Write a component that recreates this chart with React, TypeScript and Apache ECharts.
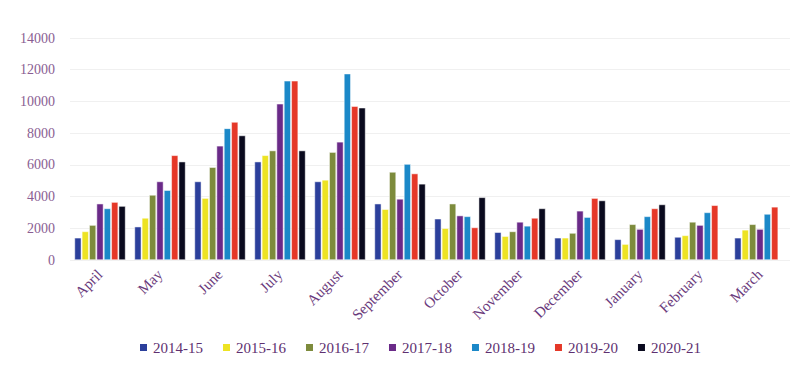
import React, { useEffect, useRef } from "react";
import * as echarts from "echarts";

const months = ["April", "May", "June", "July", "August", "September", "October", "November", "December", "January", "February", "March"];
const seriesNames = ["2014-15", "2015-16", "2016-17", "2017-18", "2018-19", "2019-20", "2020-21"];
const colors = ["#2B3F9B", "#EDE323", "#7D8B3C", "#6A2A88", "#1B88C8", "#E53828", "#0A0A1E"];

const v2014 = [1400, 2100, 4950, 6200, 4950, 3550, 2600, 1750, 1400, 1300, 1450, 1400];
const v2015 = [1800, 2650, 3900, 6600, 5050, 3200, 2000, 1500, 1400, 1000, 1550, 1900];
const v2016 = [2200, 4100, 5850, 6900, 6800, 5550, 3550, 1800, 1700, 2250, 2400, 2250];
const v2017 = [3550, 4950, 7200, 9850, 7450, 3850, 2800, 2400, 3100, 1950, 2200, 1950];
const v2018 = [3250, 4400, 8300, 11300, 11750, 6050, 2750, 2150, 2700, 2750, 3000, 2900];
const v2019 = [3650, 6600, 8700, 11300, 9700, 5450, 2050, 2650, 3900, 3250, 3450, 3350];
const v2020 = [3400, 6200, 7850, 6900, 9600, 4800, 3950, 3250, 3750, 3500, null, null];

const allValues = [v2014, v2015, v2016, v2017, v2018, v2019, v2020];
const yTicks = [0, 2000, 4000, 6000, 8000, 10000, 12000, 14000];

const FONT = "Liberation Serif";

export default function App() {
  const ref = useRef<HTMLDivElement>(null);
  useEffect(() => {
    document.body.style.margin = "0";
    const chart = echarts.init(ref.current!, null, { renderer: "svg" });
    chart.setOption({
      animation: false,
      backgroundColor: "#ffffff",
      textStyle: { fontFamily: FONT },
      grid: { left: 70, right: 17, top: 38, bottom: 105, containLabel: false },
      legend: {
        bottom: 5,
        left: 133,
        itemWidth: 9,
        itemHeight: 9,
        itemGap: 18,
        icon: "rect",
        textStyle: { fontFamily: FONT, fontSize: 15, color: "#5e3070" },
        data: seriesNames.map((name) => ({
          name,
          textStyle: { fontFamily: FONT, fontSize: 15, color: "#5e3070" },
        })),
      },
      xAxis: {
        type: "category",
        data: months,
        axisLine: { show: false },
        axisTick: { show: false },
        axisLabel: {
          rotate: 45,
          fontFamily: FONT,
          fontSize: 15,
          color: "#6a3a7c",
          margin: 12,
          interval: 0,
        },
      },
      yAxis: {
        type: "value",
        min: yTicks[0],
        max: yTicks[yTicks.length - 1],
        interval: 2000,
        axisLine: { show: false },
        axisTick: { show: false },
        splitLine: { lineStyle: { color: "#f0f0f0", width: 1 } },
        axisLabel: {
          fontFamily: FONT,
          fontSize: 14,
          color: "#8a5e92",
          margin: 15,
          formatter: (v: number) => String(v),
        },
      },
      series: seriesNames.map((name, i) => ({
        name,
        type: "bar",
        data: allValues[i],
        barGap: "8%",
        barCategoryGap: "15%",
        itemStyle: { color: colors[i], borderColor: "#ffffff", borderWidth: 0.5 },
      })),
    });
    return () => chart.dispose();
  }, []);
  return <div ref={ref} style={{ width: 807, height: 365 }} />;
}
